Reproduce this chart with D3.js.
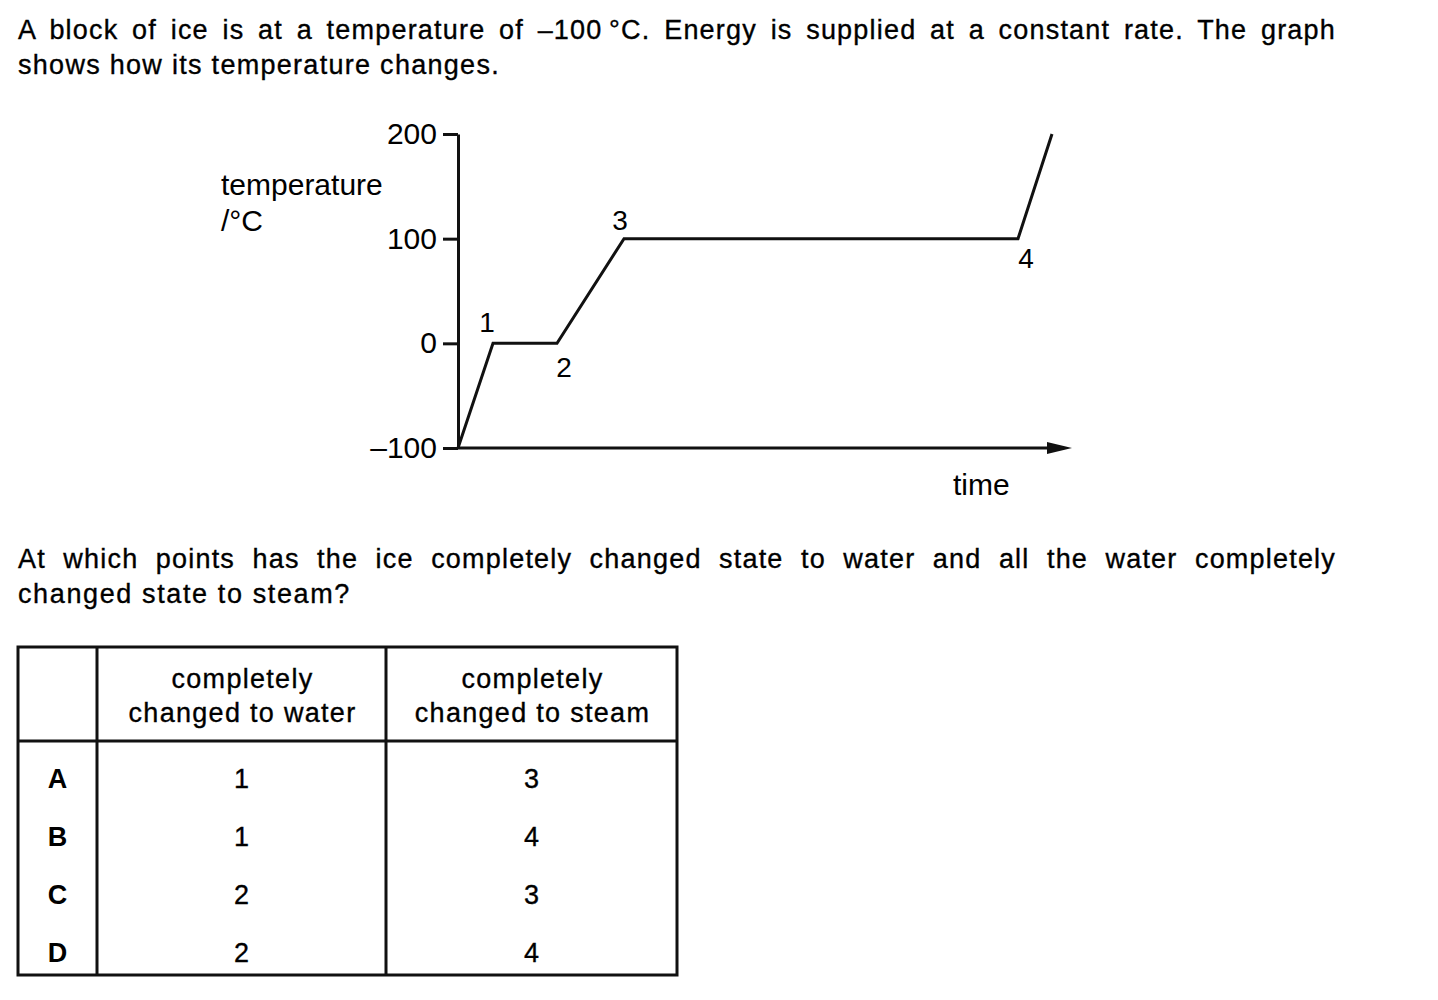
<!DOCTYPE html>
<html>
<head>
<meta charset="utf-8">
<script src="https://cdn.jsdelivr.net/npm/d3@7"></script>
<style>
  html, body { margin: 0; padding: 0; background: #fff; }
  svg { display: block; }
  text { font-family: "Liberation Sans", Arial, Helvetica, sans-serif; fill: #000; }
  .body { stroke: #000; stroke-width: 0.35px; }
</style>
</head>
<body>
<svg id="chart" width="1438" height="1000"></svg>
<script>
// ---------- data ----------
const introLines = [
  "A block of ice is at a temperature of \u2013100\u2009\u00B0C. Energy is supplied at a constant rate. The graph",
  "shows how its temperature changes."
];
const questionLines = [
  "At which points has the ice completely changed state to water and all the water completely",
  "changed state to steam?"
];
const yTickValues = [-100, 0, 100, 200];
const yTickLabels = ["\u2013100", "0", "100", "200"];
const timeValues = [0, 3.5, 9.9, 16.6, 56.0, 59.4];
const tempValues = [-100, 0, 0, 100, 100, 200];
const pointNames = ["", "1", "2", "3", "4", ""];
const timeAxisEnd = 61.4;
const yAxisTitle = ["temperature", "/\u00B0C"];
const xAxisTitle = "time";
const tableHeaders = [["completely", "changed to water"], ["completely", "changed to steam"]];
const optionLetters = ["A", "B", "C", "D"];
const waterPoints = [1, 1, 2, 2];
const steamPoints = [3, 4, 3, 4];

// ---------- setup ----------
const svg = d3.select("#chart");
const ink = "#111";
const bodySize = 27, bodyLS = 1.2;

// justified paragraph helper
function paragraph(lines, x, y0, lh, width, lastWidth) {
  const g = svg.append("g");
  lines.forEach((ln, i) => {
    const t = g.append("text").attr("class", "body").attr("x", x).attr("y", y0 + i * lh)
      .attr("font-size", bodySize).style("letter-spacing", bodyLS + "px").text(ln);
    const nat = t.node().getComputedTextLength();
    if (i < lines.length - 1) {
      const nWords = ln.split(" ").length - 1;
      const ws = (width - nat) / nWords;
      t.style("word-spacing", ws + "px");
    } else if (lastWidth) {
      const nChars = ln.length;
      const ls = bodyLS + (lastWidth - nat) / nChars;
      t.style("letter-spacing", ls + "px");
    }
  });
}
paragraph(introLines, 18, 39, 35, 1318, 482);
paragraph(questionLines, 18, 568, 35, 1318, 333);

// ---------- graph ----------
const x = d3.scaleLinear().domain([0, timeAxisEnd]).range([458, 1072]);
const y = d3.scaleLinear().domain([-100, 200]).range([448, 134]);

const yAxis = d3.axisLeft(y)
  .tickValues(yTickValues)
  .tickFormat((d, i) => yTickLabels[i])
  .tickSize(15).tickSizeOuter(0).tickPadding(6);

const gy = svg.append("g").attr("transform", `translate(${x(0)},0)`).call(yAxis);
gy.select(".domain").attr("stroke", ink).attr("stroke-width", 3);
gy.selectAll(".tick line").attr("stroke", ink).attr("stroke-width", 3);
gy.selectAll(".tick text").attr("font-size", 30)
  .attr("font-family", "Liberation Sans, Arial, sans-serif").attr("fill", "#222");

// x axis (time) with arrow
svg.append("line")
  .attr("x1", x(0)).attr("x2", x(timeAxisEnd) - 20)
  .attr("y1", y(-100)).attr("y2", y(-100))
  .attr("stroke", ink).attr("stroke-width", 3);
svg.append("path")
  .attr("d", `M${x(timeAxisEnd) - 25},${y(-100) - 6} L${x(timeAxisEnd)},${y(-100)} L${x(timeAxisEnd) - 25},${y(-100) + 6} Z`)
  .attr("fill", ink);

// data line
const pts = timeValues.map((t, i) => ({ t, v: tempValues[i], name: pointNames[i] }));
svg.append("path")
  .datum(pts)
  .attr("fill", "none").attr("stroke", ink).attr("stroke-width", 3)
  .attr("stroke-linejoin", "miter")
  .attr("d", d3.line().x(d => x(d.t)).y(d => y(d.v)));

// point labels
const labelOffsets = { "1": [-6, -11], "2": [7, 34], "3": [-4, -9], "4": [8, 29] };
svg.append("g").selectAll("text")
  .data(pts.filter(d => d.name))
  .join("text")
  .attr("x", d => x(d.t) + labelOffsets[d.name][0])
  .attr("y", d => y(d.v) + labelOffsets[d.name][1])
  .attr("text-anchor", "middle").attr("font-size", 28).attr("fill", "#222")
  .text(d => d.name);

// axis titles
svg.append("text").attr("x", 221).attr("y", 195).attr("font-size", 30).attr("fill", "#222").text(yAxisTitle[0]);
svg.append("text").attr("x", 221).attr("y", 231).attr("font-size", 30).attr("fill", "#222").text(yAxisTitle[1]);
svg.append("text").attr("x", 953).attr("y", 495).attr("font-size", 30).attr("fill", "#222").text(xAxisTitle);

// ---------- table ----------
const tbl = svg.append("g");
const colX = [18, 97, 386, 677];
const rowTop = 647, headBottom = 741, tblBottom = 975;
tbl.append("rect").attr("x", colX[0]).attr("y", rowTop)
  .attr("width", colX[3] - colX[0]).attr("height", tblBottom - rowTop)
  .attr("fill", "none").attr("stroke", ink).attr("stroke-width", 3);
[colX[1], colX[2]].forEach(cx => tbl.append("line")
  .attr("x1", cx).attr("x2", cx).attr("y1", rowTop).attr("y2", tblBottom)
  .attr("stroke", ink).attr("stroke-width", 3));
tbl.append("line").attr("x1", colX[0]).attr("x2", colX[3])
  .attr("y1", headBottom).attr("y2", headBottom)
  .attr("stroke", ink).attr("stroke-width", 3);

const colCenter = [(colX[0] + colX[1]) / 2, (colX[1] + colX[2]) / 2, (colX[2] + colX[3]) / 2];
tableHeaders.forEach((h, c) => {
  h.forEach((ln, k) => {
    tbl.append("text").attr("class", "body").attr("x", colCenter[c + 1] + 1).attr("y", 688 + k * 34)
      .attr("text-anchor", "middle").attr("font-size", bodySize)
      .style("letter-spacing", "1.3px").text(ln);
  });
});
const rowBase = [788, 846, 904, 962];
optionLetters.forEach((L, r) => {
  tbl.append("text").attr("x", colCenter[0]).attr("y", rowBase[r])
    .attr("text-anchor", "middle").attr("font-size", bodySize).attr("font-weight", "bold").text(L);
  tbl.append("text").attr("class", "body").attr("x", colCenter[1]).attr("y", rowBase[r])
    .attr("text-anchor", "middle").attr("font-size", bodySize).text(waterPoints[r]);
  tbl.append("text").attr("class", "body").attr("x", colCenter[2]).attr("y", rowBase[r])
    .attr("text-anchor", "middle").attr("font-size", bodySize).text(steamPoints[r]);
});
</script>
</body>
</html>
